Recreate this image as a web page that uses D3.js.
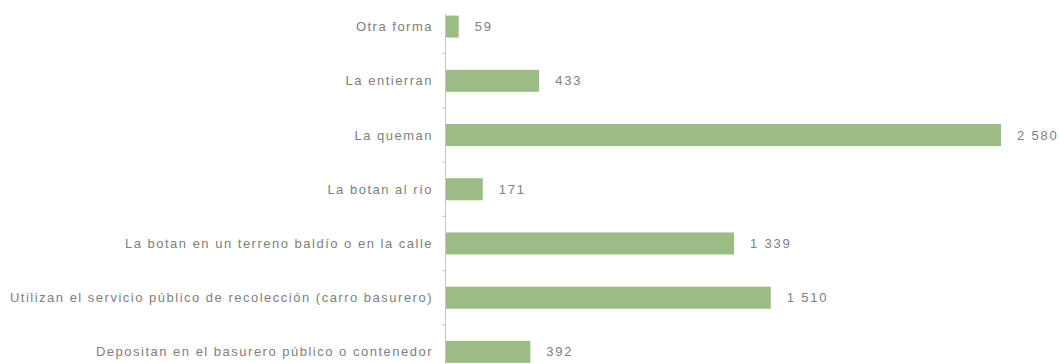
<!DOCTYPE html>
<html lang="es">
<head>
<meta charset="utf-8">
<script src="https://cdn.jsdelivr.net/npm/d3@7"></script>
<style>
  html, body { margin: 0; padding: 0; background: #ffffff; }
  svg { display: block; }
  text { font-family: "Liberation Sans", Arial, sans-serif; }
</style>
</head>
<body>
<div id="chart"></div>
<script>
// Forma de eliminación de la basura (número de hogares)
const categories = [
  "Otra forma",
  "La entierran",
  "La queman",
  "La botan al río",
  "La botan en un terreno baldío o en la calle",
  "Utilizan el servicio público de recolección (carro basurero)",
  "Depositan en el basurero público o contenedor"
];
const values = [59, 433, 2580, 171, 1339, 1510, 392];

const W = 1059, H = 364;
const axisX = 446;
const barColor = "#9cbc86";
const textColor = "#808080";

const svg = d3.select("#chart").append("svg")
  .attr("width", W).attr("height", H);

const x = d3.scaleLinear()
  .domain([0, d3.max(values)])
  .range([axisX, 1001]);

const y = d3.scaleBand()
  .domain(categories)
  .range([-0.5, 379])
  .paddingInner(0.594)
  .paddingOuter(0.297);

const fmt = d3.formatLocale({ decimal: ",", thousands: " ", grouping: [3], currency: ["", ""] }).format(",d");

const rows = categories.map((c, i) => ({ c, v: values[i] }));

// Bars
svg.append("g").selectAll("rect")
  .data(rows).join("rect")
  .attr("x", x(0))
  .attr("y", d => y(d.c))
  .attr("width", d => x(d.v) - x(0))
  .attr("height", y.bandwidth())
  .attr("fill", barColor);

// Category axis: vertical line with ticks between categories
const step = y.step();
const r0 = y.range()[0];
const axis = svg.append("g").attr("stroke", "#c4c4c4").attr("stroke-width", 1);
axis.append("line")
  .attr("x1", axisX - 0.5).attr("x2", axisX - 0.5)
  .attr("y1", y(categories[0]) - 1.5).attr("y2", H + 20);
axis.selectAll("line.tick")
  .data(d3.range(1, categories.length)).join("line")
  .attr("class", "tick")
  .attr("x1", axisX - 4).attr("x2", axisX - 0.5)
  .attr("y1", k => r0 + k * step).attr("y2", k => r0 + k * step);

// Category labels
svg.append("g").selectAll("text")
  .data(rows).join("text")
  .attr("x", axisX - 13)
  .attr("y", d => y(d.c) + y.bandwidth() / 2)
  .attr("dy", "0.35em")
  .attr("text-anchor", "end")
  .attr("font-size", 13)
  .attr("letter-spacing", "1.5px")
  .attr("fill", textColor)
  .text(d => d.c);

// Value labels
svg.append("g").selectAll("text")
  .data(rows).join("text")
  .attr("x", d => x(d.v) + 16)
  .attr("y", d => y(d.c) + y.bandwidth() / 2)
  .attr("dy", "0.35em")
  .attr("font-size", 13)
  .attr("letter-spacing", "1.8px")
  .attr("fill", textColor)
  .text(d => fmt(d.v));
</script>
</body>
</html>
